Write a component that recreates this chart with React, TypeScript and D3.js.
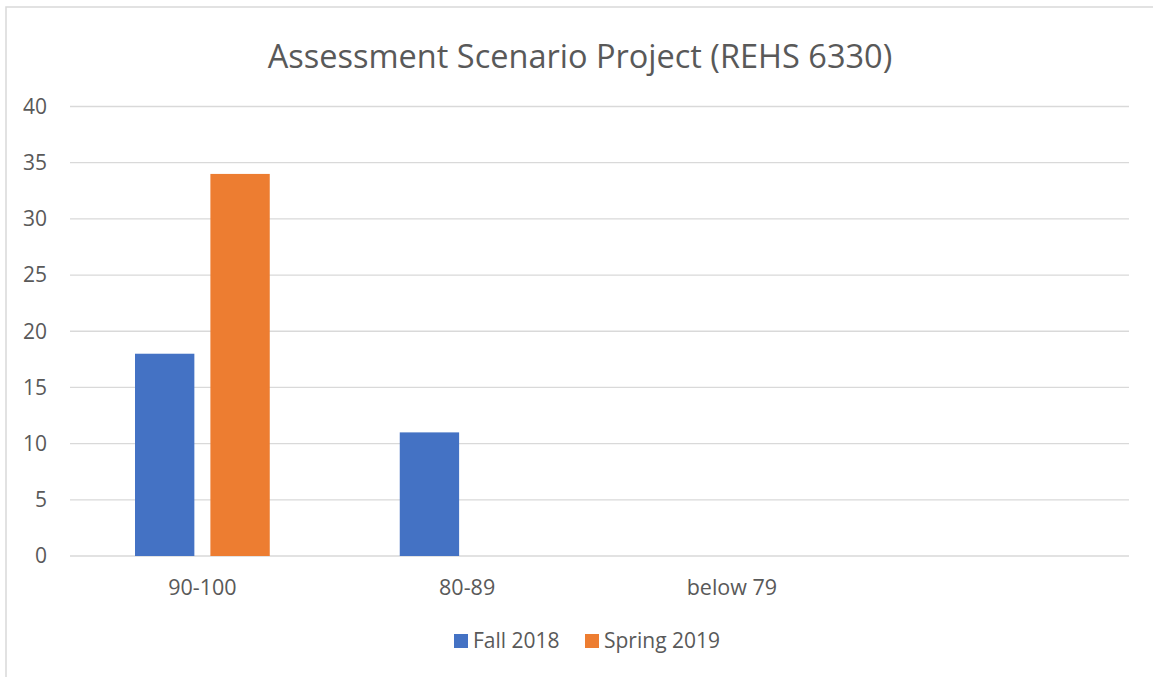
import React, { useEffect, useRef } from "react";
import * as d3 from "d3";

const categories = ["90-100", "80-89", "below 79", ""];
const seriesNames = ["Fall 2018", "Spring 2019"];
const fall2018 = [18, 11, null, null];
const spring2019 = [34, null, null, null];
const yTicks = [0, 5, 10, 15, 20, 25, 30, 35, 40];
const colors = ["#4472C4", "#ED7D31"];

const App = () => {
  const ref = useRef<SVGSVGElement>(null);

  useEffect(() => {
    const W = 1153;
    const H = 677;
    const font = "'Open Sans', 'Liberation Sans', sans-serif";
    const textColor = "#595959";
    const plot = { left: 70, right: 1129, top: 106.5, bottom: 556 };

    const svg = d3.select(ref.current);
    svg.selectAll("*").remove();
    svg.attr("width", W).attr("height", H);

    svg.append("rect").attr("width", W).attr("height", H).attr("fill", "#fff");

    // chart area border (only top and left are in frame)
    svg
      .append("path")
      .attr("d", `M6,${H} L6,7 L${W},7`)
      .attr("fill", "none")
      .attr("stroke", "#d9d9d9")
      .attr("stroke-width", 1.5);

    svg
      .append("text")
      .attr("x", 580)
      .attr("y", 68)
      .attr("text-anchor", "middle")
      .style("font-family", font)
      .style("font-size", "32.5px")
      .style("fill", textColor)
      .text("Assessment Scenario Project (REHS 6330)");

    const y = d3.scaleLinear().domain([0, 40]).range([plot.bottom, plot.top]);
    const x0 = d3
      .scaleBand()
      .domain(categories.map((c, i) => String(i)))
      .range([plot.left, plot.right]);

    // bar geometry like excel: gap width 219%, overlap -27%
    const step = x0.bandwidth();
    const barW = step / (2 + 0.27 + 2.19);
    const gap = barW * 0.27;

    svg
      .append("g")
      .selectAll("line")
      .data(yTicks)
      .enter()
      .append("line")
      .attr("x1", plot.left)
      .attr("x2", plot.right)
      .attr("y1", (d) => y(d))
      .attr("y2", (d) => y(d))
      .attr("stroke", "#d9d9d9")
      .attr("stroke-width", 1.3);

    svg
      .append("g")
      .selectAll("text")
      .data(yTicks)
      .enter()
      .append("text")
      .attr("x", 47)
      .attr("y", (d) => y(d))
      .attr("dy", "0.35em")
      .attr("text-anchor", "end")
      .style("font-family", font)
      .style("font-size", "21px")
      .style("fill", textColor)
      .text((d) => d);

    const series = [fall2018, spring2019];
    series.forEach((vals, si) => {
      svg
        .append("g")
        .selectAll("rect")
        .data(vals.map((v, i) => ({ v, i })).filter((d) => d.v != null))
        .enter()
        .append("rect")
        .attr("x", (d) => {
          const c = x0(String(d.i))! + step / 2;
          const groupW = barW * 2 + gap;
          return c - groupW / 2 + si * (barW + gap);
        })
        .attr("width", barW)
        .attr("y", (d) => y(d.v as number))
        .attr("height", (d) => y(0) - y(d.v as number))
        .attr("fill", colors[si]);
    });

    svg
      .append("g")
      .selectAll("text")
      .data(categories)
      .enter()
      .append("text")
      .attr("x", (d, i) => x0(String(i))! + step / 2)
      .attr("y", 595)
      .attr("text-anchor", "middle")
      .style("font-family", font)
      .style("font-size", "21.5px")
      .style("fill", textColor)
      .text((d) => d);

    // legend
    const legendX = [454, 585];
    const lg = svg.append("g");
    seriesNames.forEach((name, i) => {
      lg.append("rect")
        .attr("x", legendX[i])
        .attr("y", 634)
        .attr("width", 14)
        .attr("height", 14)
        .attr("fill", colors[i]);
      lg.append("text")
        .attr("x", legendX[i] + 19)
        .attr("y", 641)
        .attr("dy", "0.35em")
        .style("font-family", font)
        .style("font-size", "21px")
        .style("fill", textColor)
        .text(name);
    });
  }, []);

  return (
    <svg
      ref={ref}
      style={{ position: "absolute", left: 0, top: 0, display: "block" }}
    ></svg>
  );
};

export default App;
